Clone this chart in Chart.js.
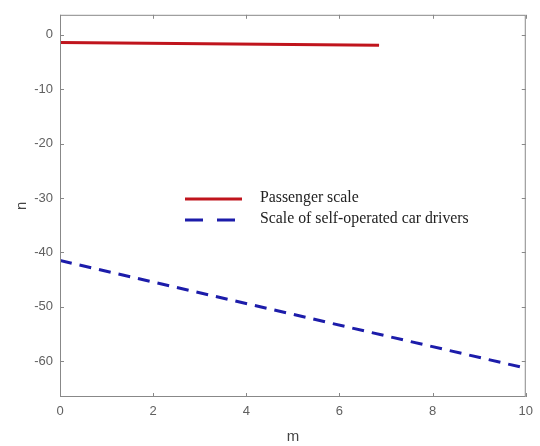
<!DOCTYPE html>
<html><head><meta charset="utf-8">
<script src="https://cdn.jsdelivr.net/npm/chart.js@4"></script>
<style>html,body{margin:0;padding:0;background:#fff}#wrap{width:540px;height:446px}</style>
</head><body><div id="wrap"><canvas id="c" width="540" height="446"></canvas></div>
<script>
const passengerM = [0, 6.85];
const passengerN = [-1.4, -1.9];
const driverM = [0, 10];
const driverN = [-41.5, -61.3];
const xTicks = [0, 2, 4, 6, 8, 10];
const yTicks = [0, -10, -20, -30, -40, -50, -60];
const seriesLabels = ['Passenger scale', 'Scale of self-operated car drivers'];

const toPts = (xs, ys) => xs.map((x, i) => ({x, y: ys[i]}));

const innerTicks = {
  id: 'innerTicks',
  afterDraw(chart) {
    const {ctx, chartArea: a, scales: {x, y}} = chart;
    ctx.save();
    ctx.strokeStyle = '#888';
    ctx.lineWidth = 1;
    ctx.strokeRect(a.left + 0.5, a.top + 0.5, a.right - a.left - 1, a.bottom - a.top - 1);
    ctx.beginPath();
    xTicks.forEach(v => {
      const px = Math.round(x.getPixelForValue(v)) + 0.5;
      ctx.moveTo(px, a.bottom); ctx.lineTo(px, a.bottom - 4);
      ctx.moveTo(px, a.top); ctx.lineTo(px, a.top + 4);
    });
    yTicks.forEach(v => {
      const py = Math.round(y.getPixelForValue(v)) + 0.5;
      ctx.moveTo(a.left, py); ctx.lineTo(a.left + 4, py);
      ctx.moveTo(a.right, py); ctx.lineTo(a.right - 4, py);
    });
    ctx.stroke();
    // legend
    const lx = 185, ly = 199, gap = 21;
    chart.data.datasets.forEach((ds, i) => {
      const yy = ly + i * gap;
      ctx.strokeStyle = ds.borderColor;
      ctx.lineWidth = 3;
      ctx.setLineDash(i === 0 ? [] : [18, 14]);
      ctx.beginPath(); ctx.moveTo(lx, yy); ctx.lineTo(lx + 57, yy); ctx.stroke();
      ctx.setLineDash([]);
      ctx.fillStyle = '#222';
      ctx.font = '15.8px "Liberation Serif", "Times New Roman", serif';
      ctx.textBaseline = 'middle';
      ctx.textAlign = 'left';
      ctx.fillText(ds.label, lx + 75, yy - 1);
    });
    ctx.restore();
  }
};

new Chart(document.getElementById('c'), {
  type: 'scatter',
  data: {
    datasets: [
      {label: seriesLabels[0], data: toPts(passengerM, passengerN), showLine: true,
       borderColor: '#c0141c', borderWidth: 3, pointRadius: 0},
      {label: seriesLabels[1], data: toPts(driverM, driverN), showLine: true,
       borderColor: '#1c1caa', borderWidth: 3, borderDash: [12, 8], pointRadius: 0}
    ]
  },
  options: {
    responsive: false, animation: false,
    layout: {padding: {left: 0, right: 12, top: 13, bottom: 0}},
    plugins: {legend: {display: false}, tooltip: {enabled: false}},
    scales: {
      x: {
        type: 'linear', min: 0, max: 10,
        afterBuildTicks: s => { s.ticks = xTicks.map(v => ({value: v})); },
        afterFit: s => { s.height = 49; },
        grid: {display: false, drawTicks: false},
        border: {display: false},
        ticks: {color: '#606060', font: {family: '"Liberation Sans", Arial, sans-serif', size: 13}, padding: 7, maxRotation: 0},
        title: {display: true, text: 'm', color: '#444', font: {family: '"Liberation Sans", Arial, sans-serif', size: 15}, padding: {top: 0, bottom: 0}}
      },
      y: {
        type: 'linear', min: -66.6, max: 3.7,
        afterBuildTicks: s => { s.ticks = yTicks.map(v => ({value: v})); },
        afterFit: s => { s.width = 60; },
        grid: {display: false, drawTicks: false},
        border: {display: false},
        ticks: {color: '#606060', font: {family: '"Liberation Sans", Arial, sans-serif', size: 13}, padding: 7},
        title: {display: true, text: 'n', color: '#444', font: {family: '"Liberation Sans", Arial, sans-serif', size: 15}, padding: {top: 13, bottom: 6}}
      }
    }
  },
  plugins: [innerTicks]
});
</script></body></html>
